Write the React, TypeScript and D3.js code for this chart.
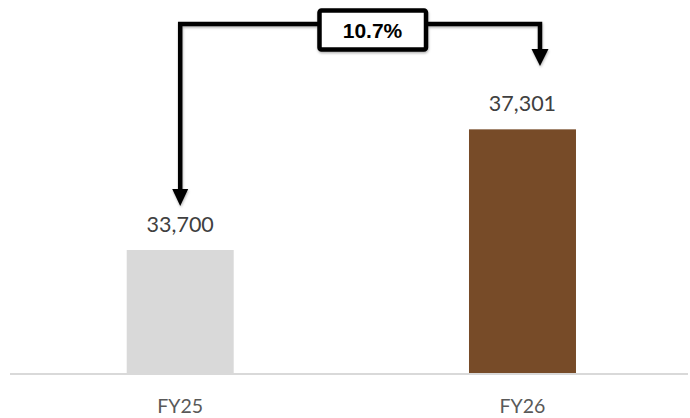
import React from "react";
import * as d3 from "d3";

const categories = ["FY25", "FY26"];
const values = [33700, 37301];
const colors = ["#d9d9d9", "#774b28"];
const changeLabel = "10.7%";

const W = 690;
const H = 418;
const baseY = 374;

export default function App() {
  const x = d3
    .scaleBand<string>()
    .domain(categories)
    .range([10, 692.7])
    .paddingInner(0.6874)
    .paddingOuter(0.341);
  const y = d3.scaleLinear().domain([30000, 40000]).range([baseY, baseY - 335.1]);
  const fmt = d3.format(",");
  const bw = x.bandwidth();
  const c0 = (x(categories[0]) ?? 0) + bw / 2;
  const c1 = (x(categories[1]) ?? 0) + bw / 2;
  const rightX = c1 + 17.5;
  const lineY = 24;

  return (
    <svg
      width={W}
      height={H}
      style={{ position: "absolute", left: 0, top: 0, background: "#fff" }}
    >
      <defs>
        <filter id="sh" x="-20%" y="-20%" width="140%" height="140%">
          <feDropShadow dx="0.5" dy="1.5" stdDeviation="1.2" floodColor="#000" floodOpacity="0.3" />
        </filter>
      </defs>
      {categories.map((c, i) => (
        <rect
          key={c}
          x={x(c)}
          y={y(values[i])}
          width={bw}
          height={baseY - y(values[i])}
          fill={colors[i]}
        />
      ))}
      <line x1={10} x2={688} y1={baseY} y2={baseY} stroke="#d9d9d9" strokeWidth={2} />
      {categories.map((c, i) => (
        <text
          key={"v" + c}
          x={(x(c) ?? 0) + bw / 2}
          y={y(values[i]) - 18.5}
          textAnchor="middle"
          fontFamily="Lato"
          fontSize={21.5}
          fill="#404040"
        >
          {fmt(values[i])}
        </text>
      ))}
      {categories.map((c) => (
        <text
          key={"c" + c}
          x={(x(c) ?? 0) + bw / 2}
          y={412.7}
          textAnchor="middle"
          fontFamily="Lato"
          fontSize={19.5}
          fill="#595959"
        >
          {c}
        </text>
      ))}
      <g filter="url(#sh)">
        <path
          d={`M${c0},${189} L${c0},${lineY} L${rightX},${lineY} L${rightX},${50}`}
          fill="none"
          stroke="#000"
          strokeWidth={4.5}
          strokeLinejoin="miter"
        />
        <path d={`M${c0 - 8},189 L${c0 + 8},189 L${c0},206 Z`} fill="#000" />
        <path d={`M${rightX - 8.5},49 L${rightX + 8.5},49 L${rightX},66 Z`} fill="#000" />
        <rect x={319.5} y={10.5} width={106.5} height={39} rx={2} fill="#fff" stroke="#000" strokeWidth={4.5} />
      </g>
      <text
        x={372.5}
        y={37.5}
        textAnchor="middle"
        fontFamily="Liberation Sans, Arial"
        fontWeight="bold"
        fontSize={21}
        fill="#000"
      >
        {changeLabel}
      </text>
    </svg>
  );
}
